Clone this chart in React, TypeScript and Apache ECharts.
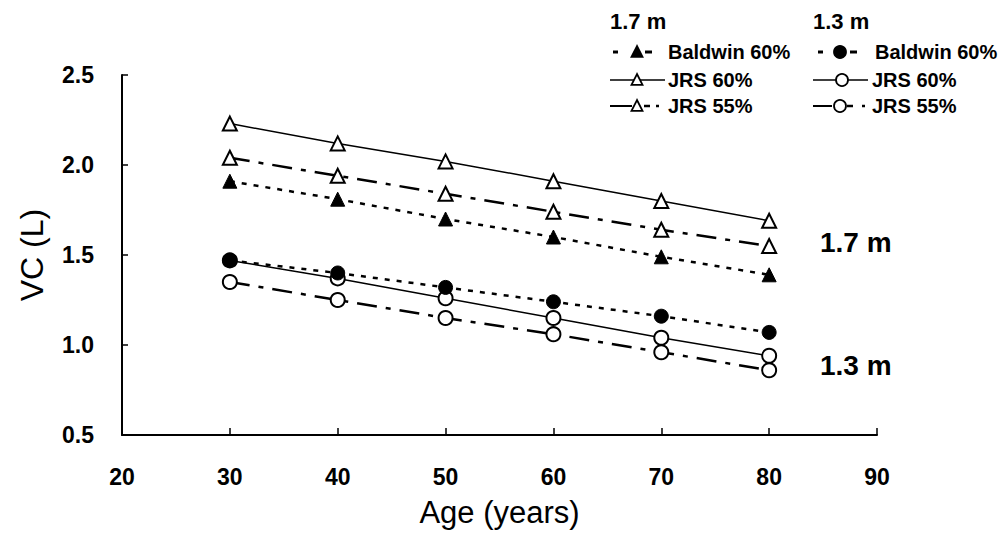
import React, { useEffect, useRef } from "react";
import * as echarts from "echarts";

const ages = [30, 40, 50, 60, 70, 80];
const baldwin17 = [1.91, 1.81, 1.7, 1.6, 1.49, 1.39];
const jrs60_17 = [2.23, 2.12, 2.02, 1.91, 1.8, 1.69];
const jrs55_17 = [2.04, 1.94, 1.84, 1.74, 1.64, 1.55];
const baldwin13 = [1.47, 1.4, 1.32, 1.24, 1.16, 1.07];
const jrs60_13 = [1.47, 1.37, 1.26, 1.15, 1.04, 0.94];
const jrs55_13 = [1.35, 1.25, 1.15, 1.06, 0.96, 0.86];

const xTicks = { min: 20, max: 90, interval: 10 };
const yTicks = { min: 0.5, max: 2.5, interval: 0.5 };

const FONT = "'Liberation Sans', Arial, Helvetica, sans-serif";

const pair = (vals: number[]) => ages.map((a, i) => [a, vals[i]]);

const solid = { type: "solid", width: 1.5, color: "#000" };
const dotted = { type: [5, 7], width: 2.5, color: "#000" };
const dashDot = { type: [20, 9, 5, 9], width: 2.5, color: "#000" };

const openStyle = { color: "#fff", borderColor: "#000", borderWidth: 2 };
const filledStyle = { color: "#000", borderColor: "#000", borderWidth: 1 };

function mkSeries(name: string, vals: number[], symbol: string, size: number, line: any, item: any) {
  return {
    name,
    type: "line",
    data: pair(vals),
    symbol,
    symbolSize: size,
    showSymbol: true,
    lineStyle: line,
    itemStyle: item,
    z: 3,
  };
}

function triangle(cx: number, cy: number, s: number, filled: boolean) {
  const h = s * 0.9;
  return {
    type: "polygon",
    shape: { points: [[cx, cy - h / 2 - 1], [cx - s / 2, cy + h / 2], [cx + s / 2, cy + h / 2]] },
    style: { fill: filled ? "#000" : "#fff", stroke: "#000", lineWidth: 1.8 },
    z: 10,
  };
}
function circ(cx: number, cy: number, r: number, filled: boolean) {
  return {
    type: "circle",
    shape: { cx, cy, r },
    style: { fill: filled ? "#000" : "#fff", stroke: "#000", lineWidth: 1.8 },
    z: 10,
  };
}
function seg(x1: number, x2: number, y: number, w: number) {
  return {
    type: "line",
    shape: { x1, y1: y, x2, y2: y },
    style: { stroke: "#000", lineWidth: w },
    z: 9,
  };
}
function txt(x: number, y: number, text: string, size: number, weight: string) {
  return {
    type: "text",
    x,
    y,
    style: {
      text,
      fill: "#000",
      font: `${weight} ${size}px ${FONT}`,
      textVerticalAlign: "middle",
      verticalAlign: "middle",
    },
    z: 10,
  };
}

const legendGraphics = () => {
  const r1 = 52, r2 = 80, r3 = 106;
  return [
    txt(610, 21, "1.7 m", 22, "bold"),
    txt(813, 21, "1.3 m", 22, "bold"),
    // col 1
    seg(613, 618, r1, 3),
    seg(645, 652, r1, 3),
    triangle(637, r1, 11, true),
    txt(668, r1, "Baldwin 60%", 20, "bold"),
    seg(610, 665, r2, 1.5),
    triangle(637, r2, 11, false),
    txt(668, r2, "JRS 60%", 20, "bold"),
    seg(610, 632, r3, 2),
    seg(644, 650, r3, 2.5),
    seg(656, 659, r3, 2.5),
    triangle(637, r3, 11, false),
    txt(668, r3, "JRS 55%", 20, "bold"),
    // col 2
    seg(818, 823, r1, 3),
    seg(850, 857, r1, 3),
    circ(840, r1, 6, true),
    txt(875, r1, "Baldwin 60%", 20, "bold"),
    seg(813, 868, r2, 1.5),
    circ(842, r2, 6, false),
    txt(872, r2, "JRS 60%", 20, "bold"),
    seg(813, 832, r3, 2),
    seg(847, 853, r3, 2.5),
    seg(862, 865, r3, 2.5),
    circ(840, r3, 6, false),
    txt(872, r3, "JRS 55%", 20, "bold"),
    // right labels
    txt(820, 242, "1.7 m", 28, "bold"),
    txt(820, 365, "1.3 m", 28, "bold"),
  ];
};

export default function App() {
  const ref = useRef<HTMLDivElement>(null);
  useEffect(() => {
    if (!ref.current) return;
    const chart = echarts.init(ref.current, undefined, { renderer: "svg" });
    chart.setOption({
      animation: false,
      backgroundColor: "#fff",
      grid: { left: 122, right: 124, top: 75, bottom: 105 },
      xAxis: {
        type: "value",
        min: xTicks.min,
        max: xTicks.max,
        interval: xTicks.interval,
        name: "Age (years)",
        nameLocation: "middle",
        nameGap: 62,
        nameTextStyle: { fontFamily: FONT, fontSize: 31, color: "#000" },
        axisLine: { show: true, lineStyle: { color: "#000", width: 2 } },
        axisTick: { show: true, inside: true, length: 7, lineStyle: { color: "#000", width: 1.5 } },
        axisLabel: { fontFamily: FONT, fontSize: 23, fontWeight: "bold", color: "#000", margin: 30 },
        splitLine: { show: false },
      },
      yAxis: {
        type: "value",
        min: yTicks.min,
        max: yTicks.max,
        interval: yTicks.interval,
        name: "VC (L)",
        nameLocation: "middle",
        nameGap: 74,
        nameRotate: 90,
        nameTextStyle: { fontFamily: FONT, fontSize: 32, color: "#000" },
        axisLine: { show: true, lineStyle: { color: "#000", width: 2 } },
        axisTick: { show: true, inside: true, length: 6, lineStyle: { color: "#000", width: 1.5 } },
        axisLabel: {
          fontFamily: FONT,
          fontSize: 23,
          fontWeight: "bold",
          color: "#000",
          margin: 28,
          formatter: (v: number) => v.toFixed(1),
        },
        splitLine: { show: false },
      },
      series: [
        mkSeries("JRS 60% (1.7 m)", jrs60_17, "triangle", 14, solid, openStyle),
        mkSeries("JRS 55% (1.7 m)", jrs55_17, "triangle", 14, dashDot, openStyle),
        mkSeries("Baldwin 60% (1.7 m)", baldwin17, "triangle", 14, dotted, filledStyle),
        mkSeries("JRS 60% (1.3 m)", jrs60_13, "circle", 14, solid, openStyle),
        mkSeries("JRS 55% (1.3 m)", jrs55_13, "circle", 14, dashDot, openStyle),
        mkSeries("Baldwin 60% (1.3 m)", baldwin13, "circle", 14, dotted, filledStyle),
      ],
      graphic: legendGraphics(),
    });
    return () => chart.dispose();
  }, []);
  return (
    <div
      ref={ref}
      style={{ position: "fixed", left: 0, top: 0, width: 1001, height: 540, background: "#fff" }}
    />
  );
}
